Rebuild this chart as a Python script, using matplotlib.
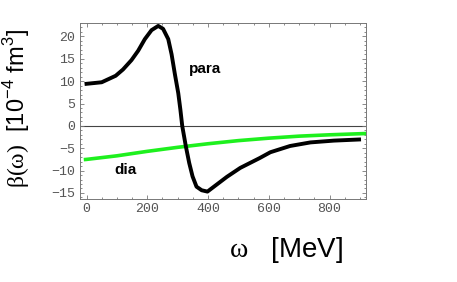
import numpy as np
import matplotlib.pyplot as plt
from matplotlib.ticker import MultipleLocator

plt.rcParams['mathtext.fontset'] = 'custom'
plt.rcParams['mathtext.rm'] = 'Liberation Serif'
plt.rcParams['mathtext.sf'] = 'Liberation Sans'

# Paramagnetic contribution (black)
para_w = [0, 50, 96, 120, 148, 170, 192, 214, 236, 252, 269, 280, 291, 302, 309, 315,
          327, 338, 349, 362, 379, 398, 429, 462, 506, 570, 605, 670, 737, 814, 897]
para_b = [9.4, 9.75, 11.2, 12.6, 14.7, 16.8, 19.4, 21.4, 22.35, 21.7, 19.4, 16.0, 11.5, 7.3, 3.6, 0.0,
          -4.6, -8.3, -11.3, -13.6, -14.4, -14.7, -13.1, -11.4, -9.4, -7.2, -5.9, -4.5, -3.7, -3.3, -3.05]

# Diamagnetic contribution (green)
dia_w = [-9, 0, 100, 200, 300, 400, 500, 600, 700, 800, 925]
dia_b = [-7.55, -7.5, -6.7, -5.7, -4.8, -4.0, -3.3, -2.75, -2.3, -2.0, -1.7]

xticks = [0, 200, 400, 600, 800]
yticks = [-15, -10, -5, 0, 5, 10, 15, 20]

fig = plt.figure(figsize=(4.57, 2.82), dpi=100)
ax = fig.add_axes([0.174, 0.296, 0.627, 0.624])

ax.axhline(0, color='#444444', lw=0.8, zorder=1)
ax.plot(dia_w, dia_b, color='#1ef01e', lw=2.6, solid_capstyle='butt', zorder=2)
ax.plot(para_w, para_b, color='black', lw=2.8, solid_joinstyle='round', zorder=3)

ax.text(390, 12.8, 'para', fontsize=11, fontweight='bold', family='Liberation Sans',
        ha='center', va='center')
ax.text(128, -9.8, 'dia', fontsize=11, fontweight='bold', family='Liberation Sans',
        ha='center', va='center')

ax.set_xlim(-23, 920)
ax.set_ylim(-16.25, 23.1)
ax.set_xticks(xticks)
ax.set_yticks(yticks)
ax.xaxis.set_minor_locator(MultipleLocator(50))
ax.yaxis.set_minor_locator(MultipleLocator(1))
ax.tick_params(which='both', direction='in', top=True, right=True, color='#777777', width=0.6,
               labelsize=9.5, labelcolor='#555555', pad=3)
ax.tick_params(which='major', length=3)
ax.tick_params(which='minor', length=1.5)
for lab in ax.get_xticklabels() + ax.get_yticklabels():
    lab.set_family('Liberation Mono')
for sp in ax.spines.values():
    sp.set_color('#777777')
    sp.set_linewidth(0.7)

ax.set_xlabel(r'$\mathrm{\omega}$   [MeV]', fontsize=20, family='Liberation Sans')
ax.xaxis.set_label_coords(0.722, -0.205)
ax.set_ylabel(r'$\mathrm{\beta(\omega)}$  [10$^{\mathsf{-4}}$ fm$^{\mathsf{3}}$]',
              fontsize=17, family='Liberation Sans')
ax.yaxis.set_label_coords(-0.165, 0.51)

fig.savefig('out.png', dpi=100)
